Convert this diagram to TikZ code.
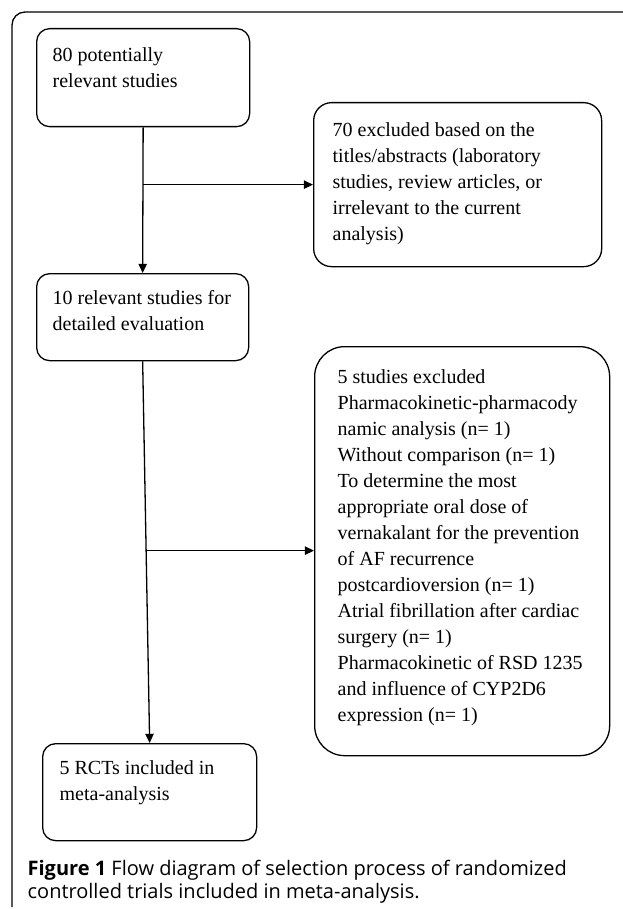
\documentclass[tikz,border=0pt]{standalone}
\usepackage{fontspec}
\setmainfont{Liberation Serif}
\newfontfamily\capfont{Open Sans}
\usetikzlibrary{arrows.meta}

\begin{document}
\begin{tikzpicture}[x=1pt,y=-1pt,line width=0.65pt,
  stage/.style={draw,rounded corners=6.5pt,anchor=north west,inner xsep=8pt,inner ysep=9.5pt,
    font=\fontsize{10}{13}\selectfont},
  flow/.style={-{Triangle[length=4.6pt,width=4.2pt]}}]

\useasboundingbox (0,0) rectangle (311,454.5);

\draw[rounded corners=6.5pt]  (6,453.5)  --  (6,6)  --  (312,6);

\node[stage] (b1) at (18,14) {\parbox[t][30pt][t]{90.5pt}{80 potentially\\relevant studies}};
\node[stage,rounded corners=9pt,inner xsep=9.5pt,inner ysep=10pt] (b2) at (156.5,51)
  {\parbox[t][62pt][t]{125pt}{70 excluded based on the\\titles/abstracts (laboratory\\studies, review articles, or\\irrelevant to the current\\analysis)}};
\node[stage,inner ysep=8.5pt] (b3) at (18,136.5) {\parbox[t][26.5pt][t]{90pt}{10 relevant studies for\\detailed evaluation}};
\node[stage,rounded corners=15pt,inner xsep=11.5pt,inner ysep=11.5pt] (b4) at (157,173)
  {\parbox[t][181.5pt][t]{124.5pt}{5 studies excluded\\Pharmacokinetic-pharmacody\\namic analysis (n= 1)\\Without comparison (n= 1)\\To determine the most\\appropriate oral dose of\\vernakalant for the prevention\\of AF recurrence\\postcardioversion (n= 1)\\Atrial fibrillation after cardiac\\surgery (n= 1)\\Pharmacokinetic of RSD 1235\\and influence of CYP2D6\\expression (n= 1)}};
\node[stage,inner xsep=8.5pt,inner ysep=8.5pt] (b5) at (21,371.5) {\parbox[t][31.5pt][t]{90pt}{5 RCTs included in\\meta-analysis}};

\coordinate (fork1) at (b1.south |- b2.west);
\draw[flow]  (b1.south)  --  (b3.north);
\draw[flow]  (fork1)  --  (b2.west);

\draw[flow]  (b3.south)  --  (b5.north)  coordinate[pos=0.496] (fork2);
\draw[flow]  (fork2)  --  (fork2 -| b4.west);

\node[anchor=north west,inner sep=0pt,align=left,font=\capfont\fontsize{10}{11.3}\selectfont] (cap) at (13.5,430)
  {\textbf{Figure 1} Flow diagram of selection process of randomized\\controlled trials included in meta-analysis.};

\end{tikzpicture}
\end{document}
